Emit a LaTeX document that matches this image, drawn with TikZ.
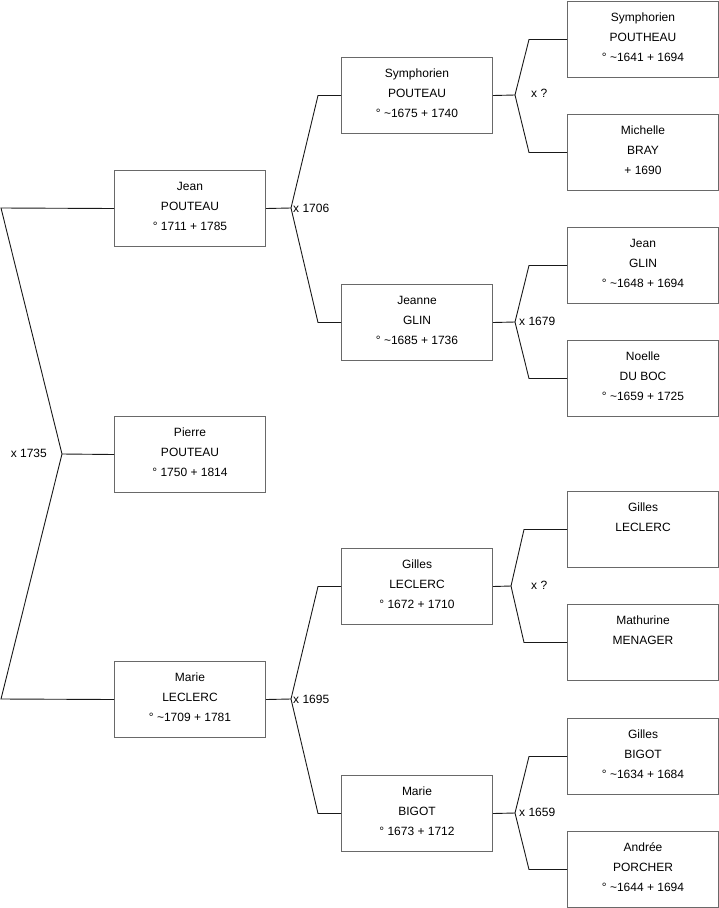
\documentclass[tikz,border=0pt]{standalone}
\usepackage{fontspec}
\setmainfont{Liberation Sans}
\definecolor{boxgray}{RGB}{105,105,105}
\definecolor{linecol}{RGB}{25,25,25}
\tikzset{
  pbox/.style={draw=boxgray, line width=1pt, fill=white, minimum width=151pt, minimum height=76pt, inner sep=0pt, anchor=north west},
  ptext/.style={anchor=base, inner sep=0pt, font=\fontsize{12}{14}\selectfont, text=black},
  mlabel/.style={inner sep=0pt, font=\fontsize{12}{14}\selectfont, text=black},
  conn/.style={draw=linecol, line width=0.9pt}
}
\newcommand\person[6]{%
  \node[pbox] (#1) at (#2,#3) {};
  \node[ptext] at ([yshift=-20.5pt]#1.north) {#4};
  \node[ptext] at ([yshift=-40.5pt]#1.north) {#5};
  \node[ptext] at ([yshift=-60.5pt]#1.north) {#6};
}
\begin{document}
\begin{tikzpicture}[x=1pt,y=-1pt]
\fill[white] (0,0) rectangle (719,908);
\useasboundingbox (0,0) rectangle (719,908);

% column 1
\person{jean}{114}{170}{Jean}{POUTEAU}{° 1711 + 1785}
\person{pierre}{114}{416}{Pierre}{POUTEAU}{° 1750 + 1814}
\person{marie}{114}{661}{Marie}{LECLERC}{° \char`~1709 + 1781}

% column 2
\person{sym}{341}{57}{Symphorien}{POUTEAU}{° \char`~1675 + 1740}
\person{jeanne}{341}{284}{Jeanne}{GLIN}{° \char`~1685 + 1736}
\person{gillesl}{341}{548}{Gilles}{LECLERC}{° 1672 + 1710}
\person{marieb}{341}{775}{Marie}{BIGOT}{° 1673 + 1712}

% column 3
\person{symp}{567}{1}{Symphorien}{POUTHEAU}{° \char`~1641 + 1694}
\person{michelle}{567}{114}{Michelle}{BRAY}{+ 1690}
\person{jeang}{567}{227}{Jean}{GLIN}{° \char`~1648 + 1694}
\person{noelle}{567}{340}{Noelle}{DU BOC}{° \char`~1659 + 1725}
\person{gillesll}{567}{491}{Gilles}{LECLERC}{}
\person{mathurine}{567}{604}{Mathurine}{MENAGER}{}
\person{gillesb}{567}{718}{Gilles}{BIGOT}{° \char`~1634 + 1684}
\person{andree}{567}{831}{Andrée}{PORCHER}{° \char`~1644 + 1694}

% root connector
\coordinate (r) at (62,454);
\coordinate (rt) at (1,208);
\coordinate (rb) at (1,699);
\draw[conn] (jean.west) -- (rt) -- (r) -- (rb) -- (marie.west);
\draw[conn] (r) -- (pierre.west);
\node[mlabel, anchor=east] (l1) at (47,453) {x 1735};

% Jean's parents
\coordinate (a1) at (291,208);
\draw[conn] (jean.east) -- (a1);
\draw[conn] (sym.west) -- ([xshift=-23pt]sym.west) -- (a1) -- ([xshift=-23pt]jeanne.west) -- (jeanne.west);
\node[mlabel, anchor=west] (l2) at (293,208) {x 1706};

% Marie's parents
\coordinate (a2) at (291,699);
\draw[conn] (marie.east) -- (a2);
\draw[conn] (gillesl.west) -- ([xshift=-23pt]gillesl.west) -- (a2) -- ([xshift=-23pt]marieb.west) -- (marieb.west);
\node[mlabel, anchor=west] (l3) at (293,699) {x 1695};

% Symphorien's parents
\coordinate (a3) at (515,95);
\draw[conn] (sym.east) -- (a3);
\draw[conn] (symp.west) -- ([xshift=-38pt]symp.west) -- (a3) -- ([xshift=-38pt]michelle.west) -- (michelle.west);
\node[mlabel, anchor=west] (l4) at (531,93) {x ?};

% Jeanne's parents
\coordinate (a4) at (515,322);
\draw[conn] (jeanne.east) -- (a4);
\draw[conn] (jeang.west) -- ([xshift=-38pt]jeang.west) -- (a4) -- ([xshift=-38pt]noelle.west) -- (noelle.west);
\node[mlabel, anchor=west] (l5) at (519,321) {x 1679};

% Gilles's parents
\coordinate (a5) at (511,586);
\draw[conn] (gillesl.east) -- (a5);
\draw[conn] (gillesll.west) -- ([xshift=-43pt]gillesll.west) -- (a5) -- ([xshift=-43pt]mathurine.west) -- (mathurine.west);
\node[mlabel, anchor=west] (l6) at (531,585) {x ?};

% Marie Bigot's parents
\coordinate (a6) at (515,813);
\draw[conn] (marieb.east) -- (a6);
\draw[conn] (gillesb.west) -- ([xshift=-38pt]gillesb.west) -- (a6) -- ([xshift=-38pt]andree.west) -- (andree.west);
\node[mlabel, anchor=west] (l7) at (519,812) {x 1659};
\end{tikzpicture}
\end{document}
